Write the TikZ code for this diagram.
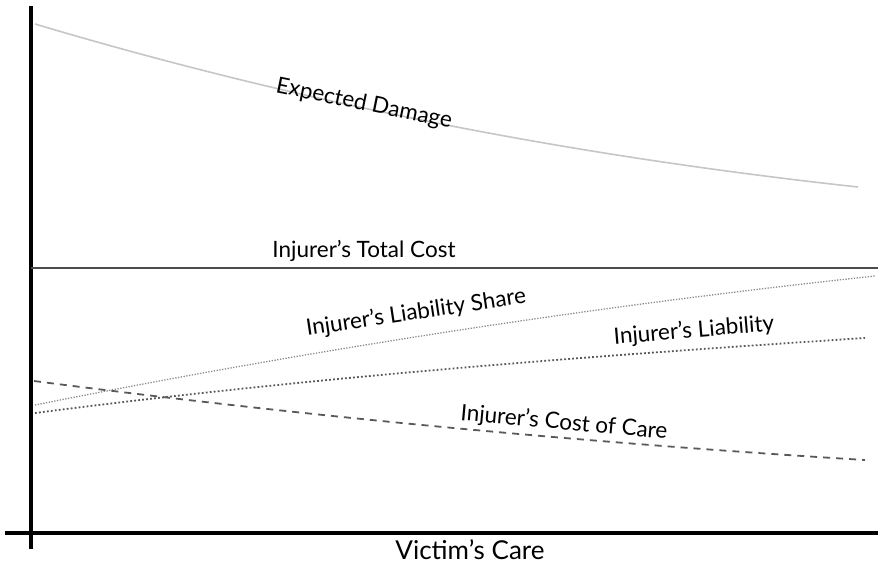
\documentclass[tikz,border=0pt]{standalone}
\usepackage{fontspec}
\setmainfont{Lato}
\begin{document}
\begin{tikzpicture}[x=1pt,y=-1pt,
  lbl/.style={font=\fontsize{22.5}{26}\selectfont, inner sep=0pt},
  axis/.style={line width=3.5pt, black},
  dmg/.style={line width=1.6pt, gray!45},
  total/.style={line width=1.6pt, black!70},
  share/.style={line width=1.3pt, black!45, dash pattern=on 1.3pt off 1.5pt},
  liab/.style={line width=1.8pt, black!65, dash pattern=on 1.8pt off 2.2pt},
  carecost/.style={line width=1.8pt, black!65, dash pattern=on 7pt off 6pt}]
\useasboundingbox (0,0) rectangle (878,565);
% axes
\draw[axis] (31,6) -- (31,549);
\draw[axis] (5,533) -- (878,533);
% curves
\draw[dmg] (35,24) .. controls (310,106) and (583,157) .. (858,187);
\draw[total] (31,268) -- (878,268);
\draw[share] (35,405) .. controls (315,349) and (595,306) .. (875,276);
\draw[liab] (35,413) .. controls (312,377) and (588,356) .. (865,338);
\draw[carecost] (34,381) .. controls (311,417) and (588,443) .. (865,460);
% labels
\node[lbl, rotate=-11.5] (ed) at (364,104) {Expected Damage};
\node[lbl] (tc) at (364,251) {Injurer’s Total Cost};
\node[lbl, rotate=8.5] (ls) at (416,313) {Injurer’s Liability Share};
\node[lbl, rotate=4.8] (il) at (694,331) {Injurer’s Liability};
\node[lbl, rotate=-5.2] (cc) at (564,423) {Injurer’s Cost of Care};
\node[lbl, font=\fontsize{26}{30}\selectfont] (vc) at (470,550) {Victim’s Care};
\end{tikzpicture}
\end{document}
